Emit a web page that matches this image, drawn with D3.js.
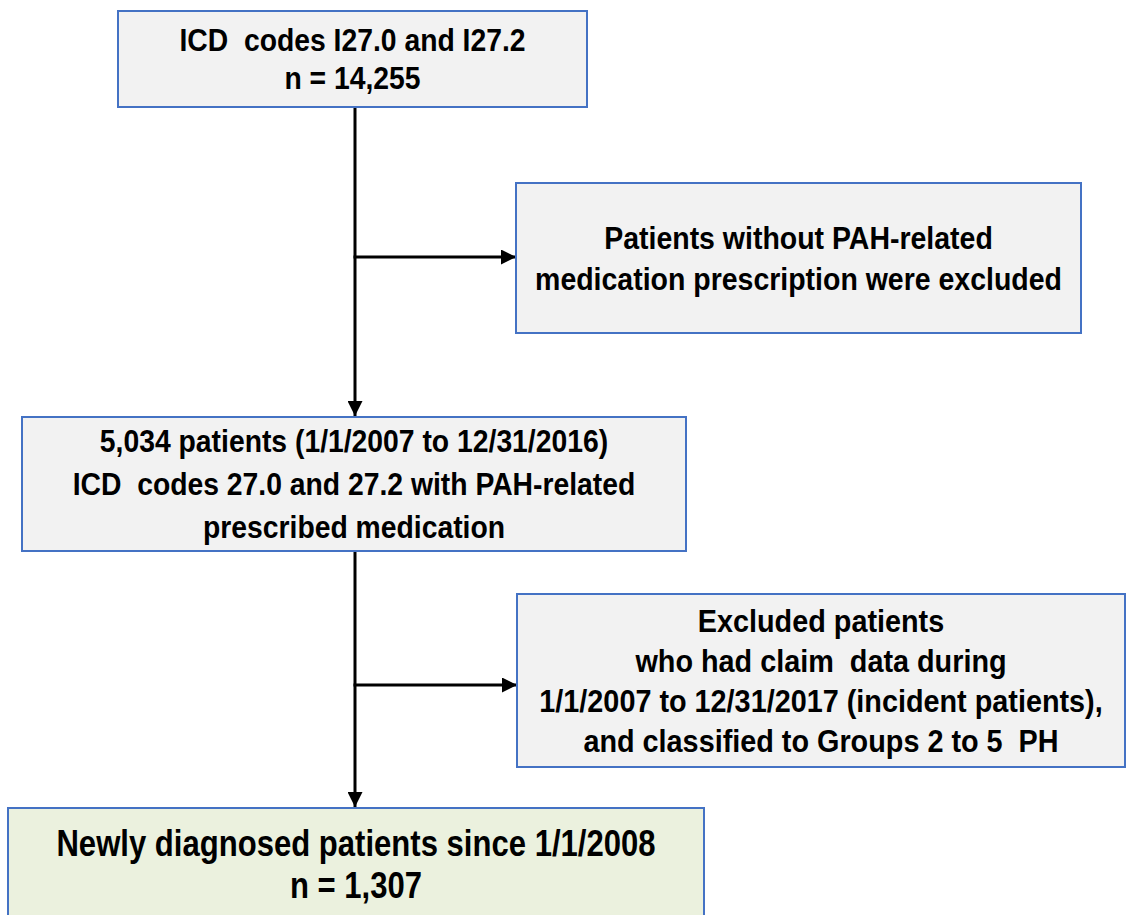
<!DOCTYPE html>
<html>
<head>
<meta charset="utf-8">
<script src="https://cdn.jsdelivr.net/npm/d3@7"></script>
<style>
  html, body { margin: 0; padding: 0; background: #ffffff; }
  #chart { width: 1129px; height: 915px; overflow: hidden; }
</style>
</head>
<body>
<div id="chart"></div>
<script>
// textos del diagrama de flujo
const pasosPrincipales = [
  ["ICD  codes I27.0 and I27.2", "n = 14,255"],
  ["5,034 patients (1/1/2007 to 12/31/2016)", "ICD  codes 27.0 and 27.2 with PAH-related", "prescribed medication"],
  ["Newly diagnosed patients since 1/1/2008", "n = 1,307"]
];

const exclusiones = [
  ["Patients without PAH-related", "medication prescription were excluded"],
  ["Excluded patients", "who had claim  data during", "1/1/2007 to 12/31/2017 (incident patients),", "and classified to Groups 2 to 5  PH"]
];

// geometría (px)
const cajasPrincipales = [
  { x0: 118, x1: 587, y0: 11, y1: 107, fs: 32, sx: 0.885, lh: 38, fill: "#f2f2f2" },
  { x0: 22, x1: 686, y0: 417, y1: 551, fs: 32, sx: 0.885, lh: 43, fill: "#f2f2f2" },
  { x0: 8, x1: 704, y0: 808, y1: 922, fs: 37, sx: 0.84, lh: 42, fill: "#ebf1de", cy: 864 }
];
const cajasExclusion = [
  { x0: 516, x1: 1081, y0: 183, y1: 333, fs: 32, sx: 0.89, lh: 41, fill: "#f2f2f2" },
  { x0: 517, x1: 1125, y0: 594, y1: 767, fs: 32, sx: 0.9, lh: 40, fill: "#f2f2f2" }
];
const troncoX = 355;
const ramasY = [257, 685];

const width = 1129, height = 915;
const colorBorde = "#4472c4";
const fuente = "'Liberation Sans', Arial, Helvetica, sans-serif";

const svg = d3.select("#chart")
  .append("svg")
  .attr("width", width)
  .attr("height", height)
  .attr("viewBox", `0 0 ${width} ${height}`);

const defs = svg.append("defs");
defs.append("marker")
  .attr("id", "flecha")
  .attr("viewBox", "0 0 10 10")
  .attr("refX", 10)
  .attr("refY", 5)
  .attr("markerUnits", "userSpaceOnUse")
  .attr("markerWidth", 15)
  .attr("markerHeight", 15)
  .attr("orient", "auto")
  .append("path")
  .attr("d", "M0,0 L10,5 L0,10 Z")
  .attr("fill", "#000");

// conectores verticales
const tramos = [
  { y0: cajasPrincipales[0].y1, y1: cajasPrincipales[1].y0 - 1 },
  { y0: cajasPrincipales[1].y1, y1: cajasPrincipales[2].y0 - 1 }
];
svg.append("g").selectAll("line")
  .data(tramos)
  .join("line")
  .attr("x1", troncoX).attr("x2", troncoX)
  .attr("y1", d => d.y0).attr("y2", d => d.y1)
  .attr("stroke", "#000")
  .attr("stroke-width", 3)
  .attr("marker-end", "url(#flecha)");

// ramas horizontales hacia las exclusiones
svg.append("g").selectAll("line")
  .data(ramasY)
  .join("line")
  .attr("x1", troncoX - 1.5)
  .attr("x2", (d, i) => cajasExclusion[i].x0)
  .attr("y1", d => d).attr("y2", d => d)
  .attr("stroke", "#000")
  .attr("stroke-width", 3)
  .attr("marker-end", "url(#flecha)");

function dibujarCaja(caja, lineas) {
  const g = svg.append("g");
  g.append("rect")
    .attr("x", caja.x0)
    .attr("y", caja.y0)
    .attr("width", caja.x1 - caja.x0)
    .attr("height", caja.y1 - caja.y0)
    .attr("fill", caja.fill)
    .attr("stroke", colorBorde)
    .attr("stroke-width", 2);

  const cx = (caja.x0 + caja.x1) / 2;
  const cy = caja.cy != null ? caja.cy : (caja.y0 + caja.y1) / 2;
  const inicio = cy - (lineas.length - 1) * caja.lh / 2;

  g.append("g")
    .attr("transform", `translate(${cx},0) scale(${caja.sx},1)`)
    .selectAll("text")
    .data(lineas)
    .join("text")
    .attr("x", 0)
    .attr("y", (d, i) => inicio + i * caja.lh)
    .attr("dy", "0.35em")
    .attr("text-anchor", "middle")
    .attr("font-family", fuente)
    .attr("font-weight", "bold")
    .attr("font-size", caja.fs)
    .attr("fill", "#000")
    .style("white-space", "pre")
    .text(d => d);
}

cajasPrincipales.forEach((c, i) => dibujarCaja(c, pasosPrincipales[i]));
cajasExclusion.forEach((c, i) => dibujarCaja(c, exclusiones[i]));
</script>
</body>
</html>
